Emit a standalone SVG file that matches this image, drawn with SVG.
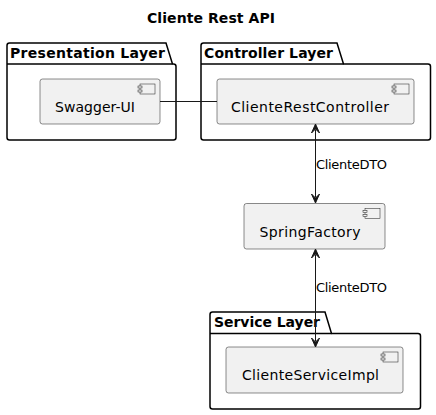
<svg xmlns="http://www.w3.org/2000/svg" width="436" height="415" viewBox="0 0 436 415">
<style>
text{font-family:"DejaVu Sans","Liberation Sans",sans-serif;fill:#000}
.t{font-size:14px;font-weight:bold}
.pk{fill:none;stroke:#000;stroke-width:1.5}
.cb{fill:#F1F1F1;stroke:#181818;stroke-width:0.5}
.ic{fill:#F1F1F1;stroke:#181818;stroke-width:0.5}
.cn{font-size:14px}
.lb{font-size:13px}
.ln{stroke:#181818;stroke-width:1;fill:none}
.ah{fill:#181818;stroke:#181818;stroke-width:1}
</style>
<defs>
<g id="icon">
<rect class="ic" x="0" y="0" width="15" height="10"/>
<rect class="ic" x="-2" y="2" width="4" height="2"/>
<rect class="ic" x="-2" y="6" width="4" height="2"/>
</g>
</defs>
<text class="t" x="147" y="23" textLength="128">Cliente Rest API</text>

<g id="pkg-presentation">
<path class="pk" d="M9.5,43 L166,43 L172.5,64 L173.5,64 Q176,64 176,66.5 L176,137.5 Q176,140 173.5,140 L9.5,140 Q7,140 7,137.5 L7,45.5 Q7,43 9.5,43 Z"/>
<line class="pk" x1="7" y1="64" x2="172.5" y2="64"/>
<text class="t" x="10" y="58" textLength="155">Presentation Layer</text>
</g>
<g id="pkg-controller">
<path class="pk" d="M203.5,43 L337,43 L343.5,64 L428,64 Q430.5,64 430.5,66.5 L430.5,137.5 Q430.5,140 428,140 L203.5,140 Q201,140 201,137.5 L201,45.5 Q201,43 203.5,43 Z"/>
<line class="pk" x1="201" y1="64" x2="343.5" y2="64"/>
<text class="t" x="204" y="58" textLength="129">Controller Layer</text>
</g>
<g id="pkg-service">
<path class="pk" d="M212.5,312 L325,312 L331.5,333.5 L418,333.5 Q420.5,333.5 420.5,336 L420.5,406.5 Q420.5,409 418,409 L212.5,409 Q210,409 210,406.5 L210,314.5 Q210,312 212.5,312 Z"/>
<line class="pk" x1="210" y1="333.5" x2="331.5" y2="333.5"/>
<text class="t" x="214" y="327" textLength="106">Service Layer</text>
</g>

<g id="swagger-ui">
<rect class="cb" x="40" y="79" width="120" height="45" rx="2.5"/>
<use href="#icon" x="140" y="84"/>
<text class="cn" x="55" y="112" textLength="80">Swagger-UI</text>
</g>
<g id="cliente-rest-controller">
<rect class="cb" x="217" y="79" width="197" height="45" rx="2.5"/>
<use href="#icon" x="394" y="84"/>
<text class="cn" x="231" y="112" textLength="158">ClienteRestController</text>
</g>
<g id="spring-factory">
<rect class="cb" x="244" y="203.5" width="141" height="45.5" rx="2.5"/>
<use href="#icon" x="365" y="208.5"/>
<text class="cn" x="259.5" y="237" textLength="101">SpringFactory</text>
</g>
<g id="cliente-service-impl">
<rect class="cb" x="226" y="347" width="177" height="46" rx="2.5"/>
<use href="#icon" x="383" y="352"/>
<text class="cn" x="242" y="380" textLength="137">ClienteServiceImpl</text>
</g>

<g id="connectors">
<line class="ln" x1="160" y1="101.5" x2="217" y2="101.5"/>
<line class="ln" x1="315.5" y1="130" x2="315.5" y2="197"/>
<polygon class="ah" points="315.5,124 319.5,133 315.5,129 311.5,133"/>
<polygon class="ah" points="315.5,203 319.5,194 315.5,198 311.5,194"/>
<text class="lb" x="316" y="169" textLength="71">ClienteDTO</text>
<line class="ln" x1="315.5" y1="255" x2="315.5" y2="341"/>
<polygon class="ah" points="315.5,249 319.5,258 315.5,254 311.5,258"/>
<polygon class="ah" points="315.5,347 319.5,338 315.5,342 311.5,338"/>
<text class="lb" x="316" y="292" textLength="71">ClienteDTO</text>
</g>
</svg>
